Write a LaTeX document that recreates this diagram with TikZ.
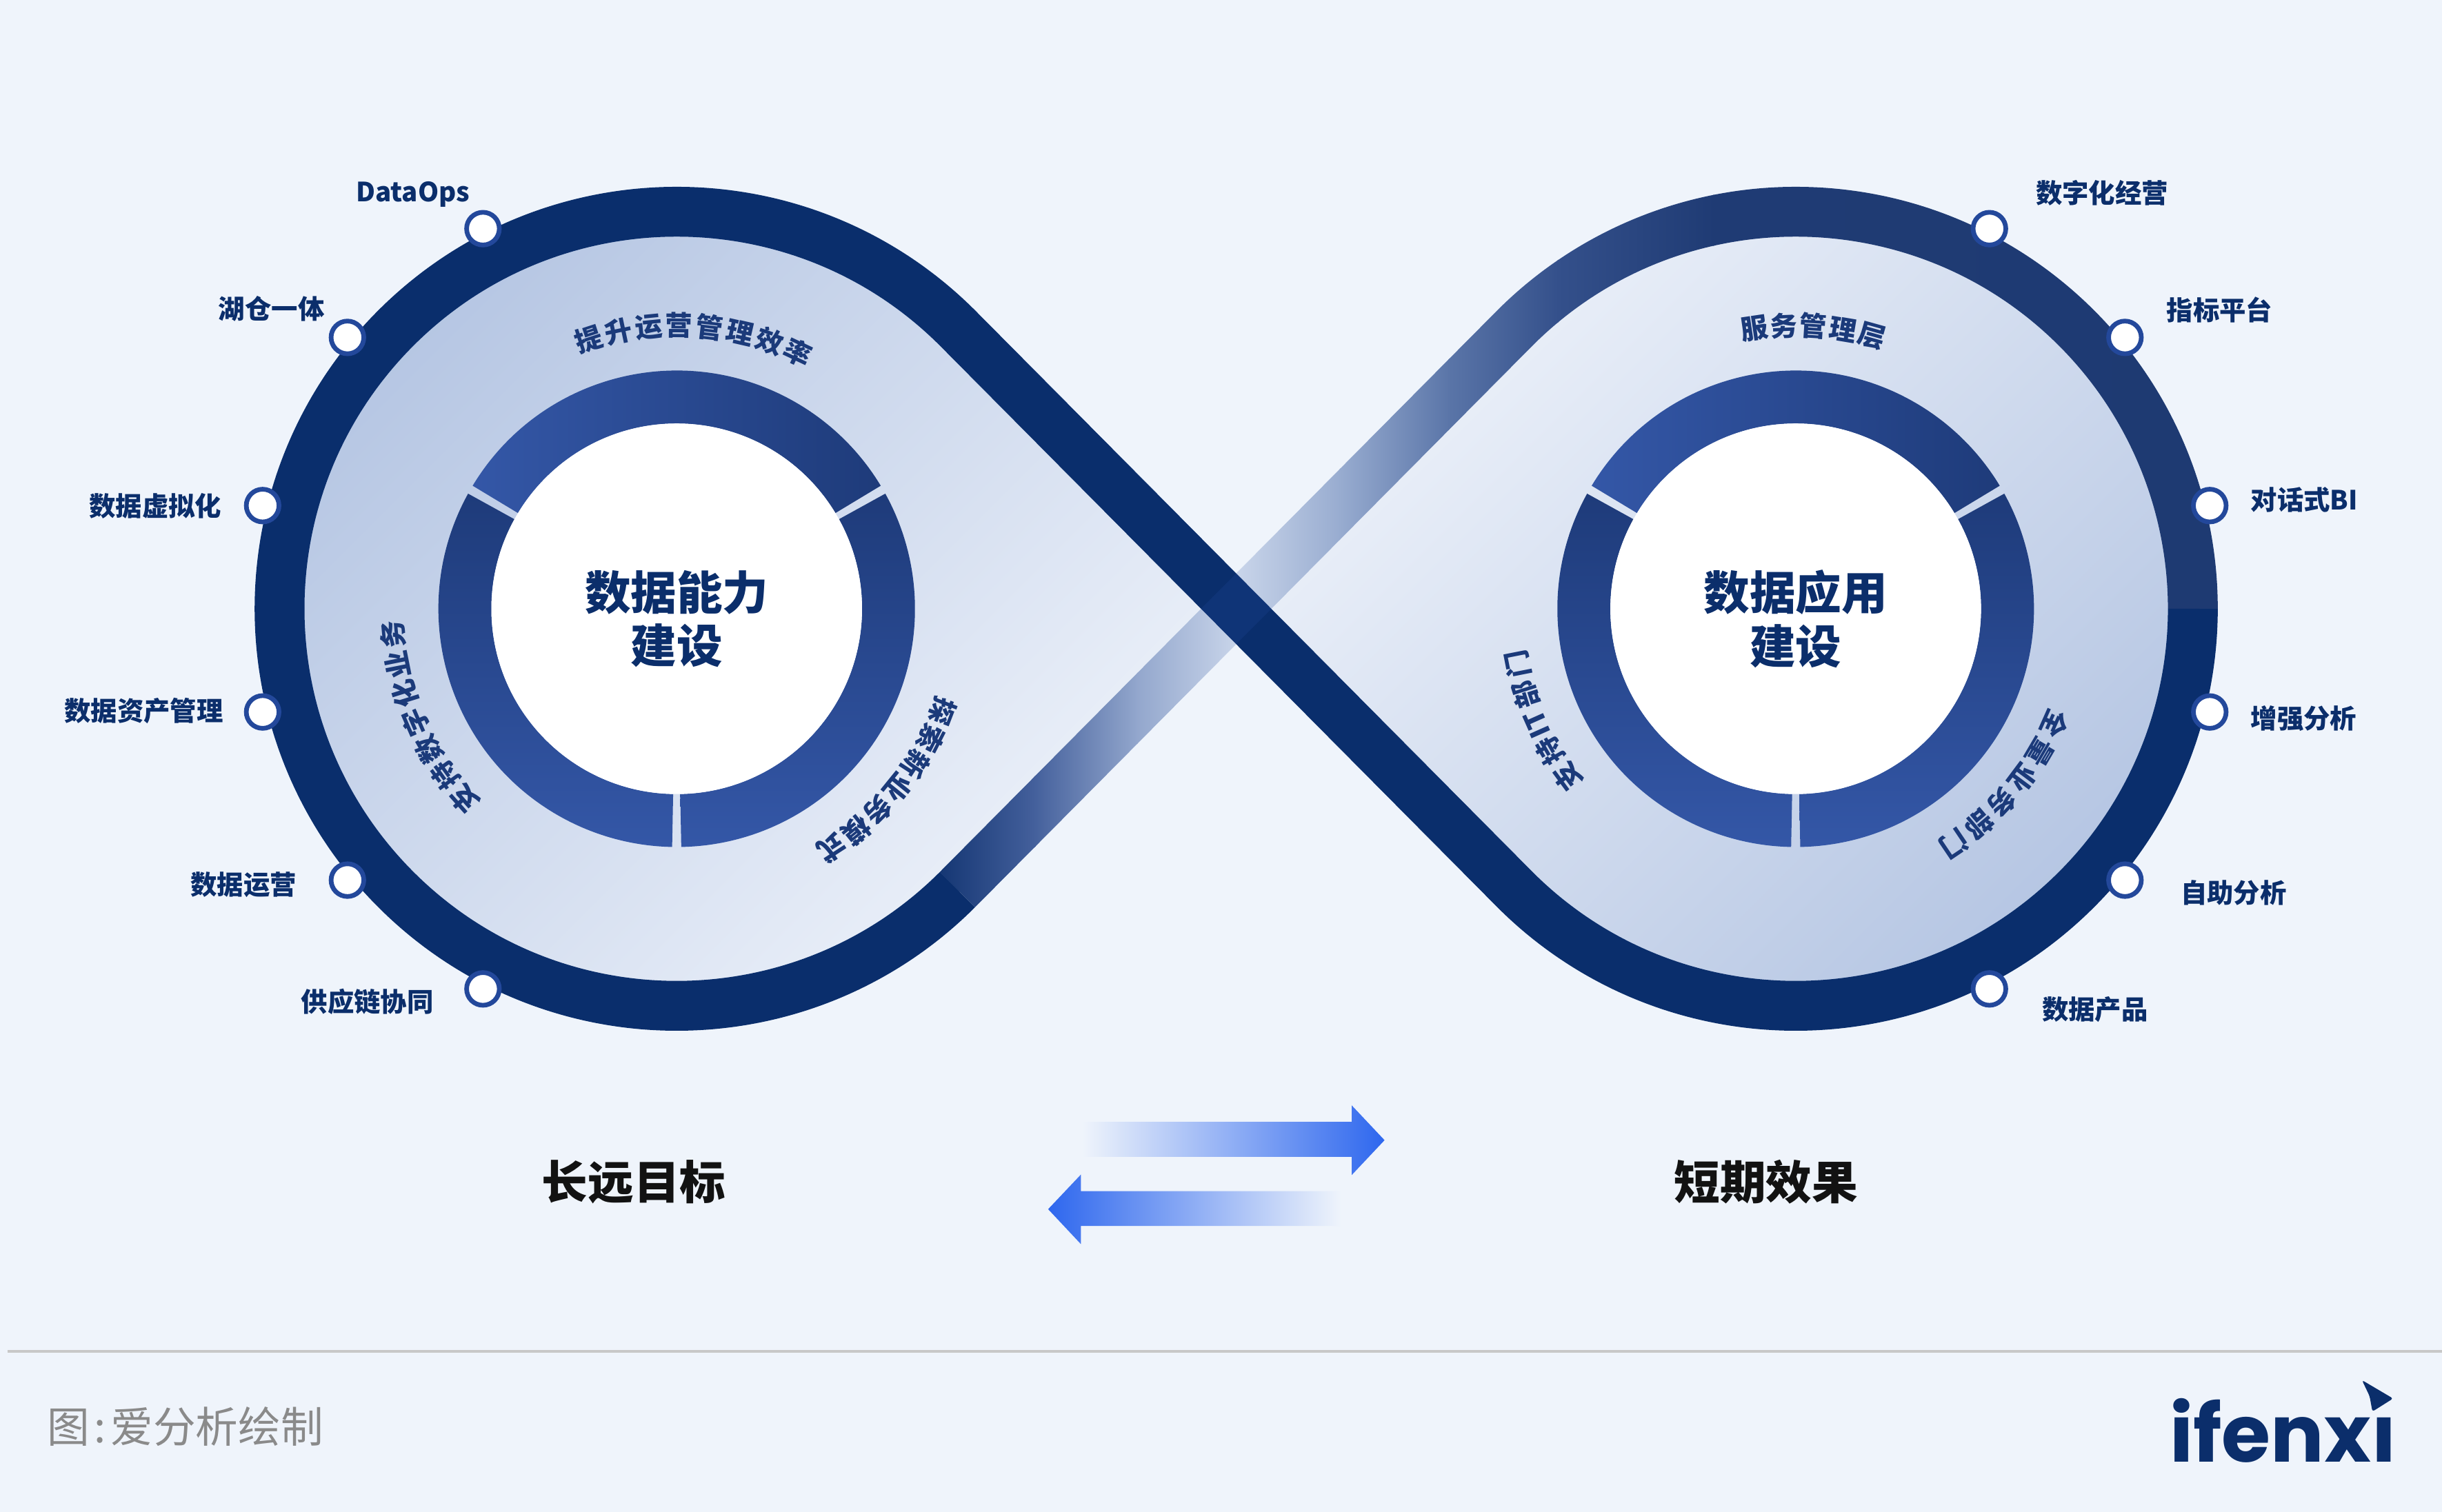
\documentclass[tikz,border=0pt]{standalone}
\usepackage{fontspec}
\setmainfont{Noto Sans CJK SC}
\newfontfamily\logofont{Poppins}
\usetikzlibrary{calc}
\definecolor{bg}{HTML}{EFF4FB}
\definecolor{navy}{HTML}{0A2E6C}
\definecolor{lobedark}{HTML}{B3C4E2}
\definecolor{lobelight}{HTML}{F0F4FB}
\definecolor{segl}{HTML}{3457A7}
\definecolor{segd}{HTML}{1E3B7A}
\definecolor{txtnavy}{HTML}{0B2E6B}
\definecolor{arctxt}{HTML}{1B3A7A}
\definecolor{nodeb}{HTML}{23489B}
\definecolor{arrowblue}{HTML}{2E67EE}
\definecolor{arrowmid}{HTML}{ADC3F4}
\definecolor{footgray}{HTML}{8A8A8A}
\definecolor{rulec}{HTML}{C8C8C8}
\definecolor{overlapc}{HTML}{4070D8}
\definecolor{g0}{HTML}{0B2E6B}
\definecolor{g1}{HTML}{44609C}
\definecolor{g2}{HTML}{93A7CD}
\definecolor{g3}{HTML}{C9D5EA}
\definecolor{g4}{HTML}{98ACD0}
\definecolor{g5}{HTML}{5A75A8}
\definecolor{g6}{HTML}{34508B}
\definecolor{g7}{HTML}{1F3B74}
\definecolor{g8}{HTML}{1E3A72}
\begin{document}
\begin{tikzpicture}[x=1pt,y=1pt,
  dot/.style={circle, draw=nodeb, fill=white, line width=3pt, minimum size=21pt, inner sep=0pt},
  lab/.style={inner sep=0pt, font=\bfseries\fontsize{17}{17}\selectfont, text=txtnavy},
  arctext/.style={inner sep=0pt, font=\bfseries\fontsize{17.5}{17.5}\selectfont, text=arctxt},
  centertext/.style={align=center, inner sep=0pt, font=\bfseries\fontsize{29.5}{34.2}\selectfont, text=txtnavy},
  btext/.style={inner sep=0pt, font=\bfseries\fontsize{29.5}{30}\selectfont, text=black!93},
  ringline/.style={navy, line width=32pt, line join=round}
]
\useasboundingbox (0,0) rectangle (1568,971);
\fill[bg] (0,0) rectangle (1568,971);

\coordinate (L) at (434.5,580);
\coordinate (R) at (1153,580);
\coordinate (C) at (793.75,580);

% lobe fills
\shade[top color=lobedark, bottom color=lobelight, shading angle=45]
  ([shift={(L)}]45:255) arc[start angle=45, end angle=315, radius=255pt] -- (C) -- cycle;
\shade[top color=lobelight, bottom color=lobedark, shading angle=45]
  ([shift={(R)}]135:255) arc[start angle=135, end angle=-135, radius=255pt] -- (C) -- cycle;

% donuts
\foreach \c in {L,R} {
  \shade[left color=segl, right color=segd]
    ([shift={(\c)}]148.9:153) arc[start angle=148.9, end angle=31.1, radius=153pt]
    -- ([shift={(\c)}]31.1:119) arc[start angle=31.1, end angle=148.9, radius=119pt] -- cycle;
  \shade[top color=segd, bottom color=segl]
    ([shift={(\c)}]151.1:153) arc[start angle=151.1, end angle=268.9, radius=153pt]
    -- ([shift={(\c)}]268.9:119) arc[start angle=268.9, end angle=151.1, radius=119pt] -- cycle;
  \shade[top color=segd, bottom color=segl]
    ([shift={(\c)}]-88.9:153) arc[start angle=-88.9, end angle=28.9, radius=153pt]
    -- ([shift={(\c)}]28.9:119) arc[start angle=28.9, end angle=-88.9, radius=119pt] -- cycle;
  \fill[white] (\c) circle[radius=119pt];
}
\node[centertext] (lcenter) at ($(L)+(0,-6.5)$) {数据能力\\建设};
\node[centertext] (rcenter) at ($(R)+(0,-6.5)$) {数据应用\\建设};

% gradient band (lower left -> upper right, and upper half of right ring)
\begin{scope}
  \clip ([shift={(L)}]315:271) -- ([shift={(R)}]135:239)
    arc[start angle=135, end angle=0, radius=239pt]
    -- ([shift={(R)}]0:271) arc[start angle=0, end angle=135, radius=271pt]
    -- ([shift={(L)}]315:239) -- cycle;
  \foreach \xa/\xb/\ca/\cb in {590/664/g0/g1, 664/730/g1/g2, 730/794/g2/g3, 794/860/g3/g4,
      860/930/g4/g5, 930/1000/g5/g6, 1000/1100/g6/g7, 1100/1440/g7/g8}
    \shade[left color=\ca, right color=\cb] (\xa,300) rectangle (\xb+0.8,880);
\end{scope}

% dark path: left ring + descending band + lower half of right ring
\draw[ringline] ([shift={(L)}]-45:255) arc[start angle=-45, end angle=-315, radius=255pt]
  -- ([shift={(R)}]225:255) arc[start angle=225, end angle=360, radius=255pt];
\fill[overlapc, opacity=0.1] ($(C)+(-22.6,0)$) -- ($(C)+(0,22.6)$) -- ($(C)+(22.6,0)$) -- ($(C)+(0,-22.6)$) -- cycle;

% ring dots
\node[dot] (dl1) at ([shift={(L)}]117:274) {};
\node[dot] (dl2) at ([shift={(L)}]140.5:274) {};
\node[dot] (dl3) at ([shift={(L)}]166:274) {};
\node[dot] (dl4) at ([shift={(L)}]194:274) {};
\node[dot] (dl5) at ([shift={(L)}]219.5:274) {};
\node[dot] (dl6) at ([shift={(L)}]243:274) {};
\node[dot] (dr1) at ([shift={(R)}]63:274) {};
\node[dot] (dr2) at ([shift={(R)}]39.5:274) {};
\node[dot] (dr3) at ([shift={(R)}]14:274) {};
\node[dot] (dr4) at ([shift={(R)}]-14:274) {};
\node[dot] (dr5) at ([shift={(R)}]-39.5:274) {};
\node[dot] (dr6) at ([shift={(R)}]-63:274) {};

% outer labels
\node[lab, anchor=center] (tl1) at (265,846) {DataOps};
\node[lab, anchor=east] (tl2) at (208.5,772.6) {湖仓一体};
\node[lab, anchor=east] (tl3) at (142.5,646) {数据虚拟化};
\node[lab, anchor=east] (tl4) at (143.5,514.4) {数据资产管理};
\node[lab, anchor=east] (tl5) at (190.6,402.6) {数据运营};
\node[lab, anchor=east] (tl6) at (278.6,327.5) {供应链协同};
\node[lab, anchor=west] (tr1) at (1307,847) {数字化经营};
\node[lab, anchor=west] (tr2) at (1391,771.9) {指标平台};
\node[lab, anchor=west] (tr3) at (1445,650) {对话式BI};
\node[lab, anchor=west] (tr4) at (1445,509.6) {增强分析};
\node[lab, anchor=west] (tr5) at (1400,397.6) {自助分析};
\node[lab, anchor=west] (tr6) at (1311,322.7) {数据产品};

% curved texts, left lobe
\foreach \ch [count=\i from 0] in {提,升,运,营,管,理,效,率} {
  \pgfmathsetmacro\ang{108.1-\i*6.2}
  \node[arctext, rotate=\ang-90] (la\i) at ([shift={(L)}]\ang:182) {\ch};
}
\foreach \ch [count=\i from 0] in {支,持,数,字,化,业,务} {
  \pgfmathsetmacro\ang{221.8-\i*6.1}
  \node[arctext, rotate=\ang-90] (lb\i) at ([shift={(L)}]\ang:183) {\ch};
}
\foreach \ch [count=\i from 0] in {探,索,新,业,务,模,式} {
  \pgfmathsetmacro\ang{-21-\i*6.0}
  \node[arctext, rotate=\ang-90] (lc\i) at ([shift={(L)}]\ang:183) {\ch};
}
% curved texts, right lobe
\foreach \ch [count=\i from 0] in {服,务,管,理,层} {
  \pgfmathsetmacro\ang{98.4-\i*6.0}
  \node[arctext, rotate=\ang-90] (ra\i) at ([shift={(R)}]\ang:182) {\ch};
}
\foreach \ch/\ang [count=\i from 0] in {支/216.3, 持/210.0, IT/204.0, 部/197.6, 门/191.2} {
  \node[arctext, rotate=\ang-90] (rb\i) at ([shift={(R)}]\ang:182) {\ch};
}
\foreach \ch [count=\i from 0] in {全,量,业,务,部,门} {
  \pgfmathsetmacro\ang{-24-\i*6.4}
  \node[arctext, rotate=\ang-90] (rc\i) at ([shift={(R)}]\ang:182) {\ch};
}

% arrows
\shade[left color=bg, middle color=arrowmid, right color=arrowblue]
  (695,228) -- (868,228) -- (868,216.4) -- (889,238.7) -- (868,261) -- (868,250.5) -- (695,250.5) -- cycle;
\shade[left color=arrowblue, middle color=arrowmid, right color=bg]
  (861,183.6) -- (694,183.6) -- (694,172) -- (673,194.4) -- (694,216.6) -- (694,206) -- (861,206) -- cycle;

\node[btext] (longgoal) at (407,212) {长远目标};
\node[btext] (shortgoal) at (1134,212) {短期效果};

% rule and footer
\coordinate (rulea) at (5,103.2);
\coordinate (ruleb) at (1568,103.2);
\draw[rulec, line width=1.8pt] (rulea) -- (ruleb);
\node[anchor=west, inner sep=0pt, font=\fontsize{27.3}{27.3}\selectfont, text=footgray] (src) at (30,55) {图\kern3pt:\kern3pt 爱分析绘制};
\node[anchor=base west, inner sep=0pt, font=\logofont\bfseries\fontsize{51}{51}\selectfont, text=txtnavy] (logo) at (1393,32.2) {ifenxı};
\fill[txtnavy, rounded corners=1.5pt] (1516.6,84.6) -- (1536.6,72.8) -- (1523.3,64.4) -- (1521.5,74.3) -- cycle;
\end{tikzpicture}
\end{document}
